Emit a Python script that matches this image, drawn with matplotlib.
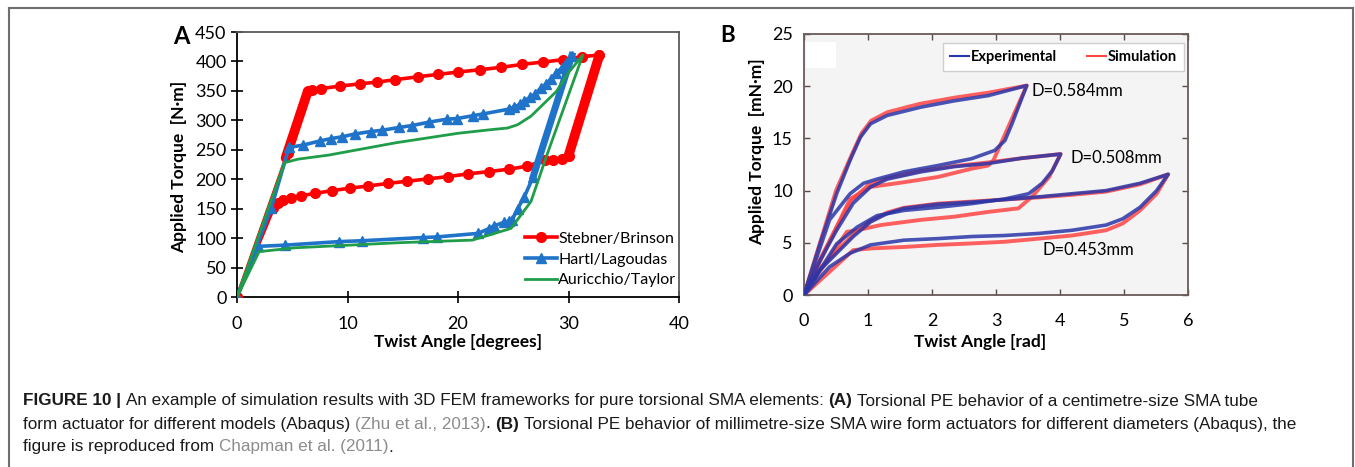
import matplotlib
matplotlib.use("Agg")
import matplotlib.pyplot as plt
from matplotlib.lines import Line2D
from matplotlib.patches import Rectangle

plt.rcParams['font.family'] = ['Lato', 'DejaVu Sans']

W, H = 1355, 467

# ---------------- panel A : torque vs twist angle, three models ----------------
sb_x = [0, 4.6, 6.4, 6.8, 7.6, 9.3, 11.1, 12.7, 14.3, 16.4, 18.2, 20.0, 22.0, 23.9, 25.8,
        27.7, 29.5, 31.2, 32.8, 30.0, 29.4, 28.6, 27.9, 26.2, 24.6, 22.8, 20.9, 19.1, 17.3,
        15.4, 13.7, 11.9, 10.2, 8.6, 7.1, 5.8, 4.9, 4.2, 3.7, 3.3, 0]
sb_y = [0, 245, 349, 352, 354, 358, 362, 365, 369, 374, 378, 382, 386, 390, 395,
        399, 403, 408, 411, 240, 234, 233, 232, 222, 217, 213, 209, 204.5, 200.6,
        196.6, 193, 188.6, 184.7, 180.7, 176, 172, 168.7, 164.8, 159, 150.6, 0]
# parts of the red curve where the markers pile up into a solid band
sb_dense_load_x = [4.4, 6.4]
sb_dense_load_y = [236, 349]
sb_dense_unload_x = [32.8, 30.0]
sb_dense_unload_y = [411, 240]

hl_x = [0, 3.1, 4.7, 6.0, 7.5, 8.5, 9.5, 10.7, 12.1, 13.1, 14.7, 15.8, 17.4, 19.0, 19.9,
        21.4, 22.3, 24.6, 25.1, 25.6, 26.0, 26.5, 27.0, 27.5, 28.0, 28.4, 28.9, 29.4, 29.8,
        30.3, 26.8, 26.0, 25.4, 24.9, 24.6, 24.2, 23.3, 22.8, 21.8, 18.1, 16.8, 11.3, 9.2,
        4.3, 1.9, 0]
hl_y = [0, 151, 254, 258, 265, 269, 272, 277, 281, 283, 288, 291, 297, 302, 303,
        308, 311, 319, 323, 327, 333, 339, 345, 355, 362, 370, 381, 389, 398,
        410, 204, 170, 150, 131, 129, 127, 121, 116, 108, 102, 101, 95.5, 94,
        88, 86, 0]
hl_dense_unload_x = [30.3, 26.8]
hl_dense_unload_y = [410, 204]

at_x = [0, 4.3, 5.5, 8.3, 14.4, 20.0, 22.9, 24.5, 25.4, 26.6, 28.9, 30.0, 31.3,
        28.1, 26.6, 24.8, 21.3, 14.4, 5.2, 2.0, 0]
at_y = [0, 228, 234, 241, 262, 278, 284, 287, 292.6, 307, 349, 381, 411,
        244, 162, 116.5, 96.6, 92, 83.5, 77, 0]

# ---------------- panel B : experiment vs simulation, three diameters ----------------
d584_exp_x = [0, 0.25, 0.51, 0.72, 0.88, 1.04, 1.3, 1.83, 2.35, 2.88, 3.48,
              3.35, 3.25, 3.14, 2.98, 2.62, 2.09, 1.56, 1.14, 0.93, 0.72, 0.4, 0]
d584_exp_y = [0, 4.9, 9.7, 12.9, 15.1, 16.4, 17.2, 18.0, 18.6, 19.1, 20.06,
              18.0, 16.4, 14.8, 13.85, 13.06, 12.4, 11.8, 11.1, 10.7, 9.7, 7.2, 0]
d584_sim_x = [0, 0.25, 0.5, 0.75, 0.9, 1.05, 1.3, 1.8, 2.35, 2.9, 3.48,
              2.96, 2.88, 2.62, 2.09, 1.56, 1.04, 0.72, 0]
d584_sim_y = [0, 5.0, 10.0, 13.5, 15.5, 16.7, 17.5, 18.3, 18.9, 19.4, 20.06,
              12.9, 12.4, 12.1, 11.3, 10.8, 10.35, 9.2, 0]

d508_exp_x = [0, 0.25, 0.51, 0.77, 1.04, 1.3, 1.83, 2.35, 2.88, 3.4, 4.01,
              3.88, 3.72, 3.51, 3.14, 2.62, 2.09, 1.56, 1.14, 0.83, 0.51, 0]
d508_exp_y = [0, 3.3, 6.2, 8.8, 10.35, 11.1, 11.8, 12.3, 12.6, 13.1, 13.5,
              11.9, 10.7, 9.7, 9.2, 8.75, 8.4, 8.1, 7.6, 6.5, 4.9, 0]
d508_sim_x = [0, 0.25, 0.5, 0.75, 1.0, 1.3, 1.83, 2.35, 2.88, 3.4, 4.01,
              3.83, 3.56, 3.35, 2.88, 2.35, 1.83, 1.2, 0.83, 0.67, 0]
d508_sim_y = [0, 3.4, 6.4, 9.1, 10.5, 11.2, 11.9, 12.35, 12.7, 13.1, 13.5,
              11.3, 9.4, 8.3, 7.96, 7.5, 7.2, 6.7, 6.2, 6.05, 0]

d453_exp_x = [0, 0.25, 0.51, 0.77, 1.04, 1.3, 1.56, 2.09, 2.62, 3.14, 3.67, 4.19, 4.72, 5.25, 5.69,
              5.51, 5.25, 4.98, 4.72, 4.19, 3.67, 3.14, 2.62, 2.09, 1.56, 1.04, 0.72, 0.4, 0]
d453_exp_y = [0, 2.4, 4.0, 5.6, 7.0, 7.8, 8.3, 8.7, 8.9, 9.14, 9.4, 9.7, 10.0, 10.7, 11.56,
              10.0, 8.4, 7.3, 6.7, 6.2, 5.9, 5.7, 5.6, 5.4, 5.25, 4.8, 4.0, 2.7, 0]
d453_sim_x = [0, 0.25, 0.51, 0.77, 1.04, 1.3, 1.56, 2.09, 2.62, 3.14, 3.67, 4.19, 4.72, 5.25, 5.69,
              5.51, 5.25, 4.98, 4.72, 4.19, 3.67, 3.14, 2.62, 2.09, 1.56, 1.04, 0.77, 0]
d453_sim_y = [0, 2.5, 4.2, 5.8, 7.1, 7.9, 8.35, 8.75, 8.95, 9.15, 9.35, 9.6, 9.9, 10.6, 11.56,
              9.7, 8.1, 6.85, 6.2, 5.7, 5.4, 5.1, 4.94, 4.8, 4.6, 4.46, 4.3, 0]

diam_labels = ['D=0.584mm', 'D=0.508mm', 'D=0.453mm']
diam_label_x = [3.55, 4.17, 3.72]
diam_label_y = [19.5, 13.15, 4.3]

RED = '#ff0000'
BLUE = '#1f74c9'
GREEN = '#1f9d48'
EXP_BLUE = '#2a36a8'
SIM_RED = '#ff4545'

fig = plt.figure(figsize=(W / 100, H / 100), dpi=100)

##################################################
# panel A
##################################################
axA = fig.add_axes([237 / W, 1 - 297 / H, 442 / W, 265 / H])

axA.plot(sb_dense_load_x, sb_dense_load_y, color=RED, lw=7, solid_capstyle='round', zorder=3)
axA.plot(sb_dense_unload_x, sb_dense_unload_y, color=RED, lw=7, solid_capstyle='round', zorder=3)
axA.plot(sb_x, sb_y, color=RED, lw=2.6, marker='o', ms=7, zorder=3, label='Stebner/Brinson')

axA.plot(hl_dense_unload_x, hl_dense_unload_y, color=BLUE, lw=5, zorder=4)
axA.plot(hl_x, hl_y, color=BLUE, lw=2.6, marker='^', ms=7, zorder=4, label='Hartl/Lagoudas')

axA.plot(at_x, at_y, color=GREEN, lw=2.0, zorder=5, label='Auricchio/Taylor')

axA.set_xlim(0, 40)
axA.set_ylim(0, 450)
axA.set_xticks(range(0, 41, 10))
axA.set_yticks(range(0, 451, 50))
axA.tick_params(direction='inout', length=9, width=1.2, labelsize=13, colors='black')
axA.tick_params(axis='x', pad=9)
axA.tick_params(axis='y', pad=3)
for side in ['left', 'bottom']:
    axA.spines[side].set_color('black')
    axA.spines[side].set_linewidth(1.3)
for side in ['top', 'right']:
    axA.spines[side].set_color('#5a5a5a')
    axA.spines[side].set_linewidth(1.3)

axA.set_xlabel('Twist Angle [degrees]', fontsize=12.5, fontweight='bold', va='center')
axA.xaxis.set_label_coords(0.501, -0.17)
axA.set_ylabel('Applied Torque  [N·m]', fontsize=12.5, fontweight='bold', va='center')
axA.yaxis.set_label_coords(-0.132, 0.489)

axA.legend(loc='lower right', bbox_to_anchor=(1.008, 0.012), frameon=False, fontsize=11.5,
           handlelength=2.0, handletextpad=0.05, labelspacing=0.42, borderaxespad=0)

fig.text(181 / W, 1 - 37 / H, 'A', fontsize=17, fontweight='bold', ha='center', va='center')

##################################################
# panel B
##################################################
axB = fig.add_axes([804 / W, 1 - 295 / H, 384 / W, 261 / H])
axB.set_facecolor('#f4f4f4')
axB.add_patch(Rectangle((0.005, 0.87), 0.078, 0.1, transform=axB.transAxes,
                        facecolor='white', edgecolor='none', zorder=0.5))

loops = [(d584_exp_x, d584_exp_y, d584_sim_x, d584_sim_y),
         (d508_exp_x, d508_exp_y, d508_sim_x, d508_sim_y),
         (d453_exp_x, d453_exp_y, d453_sim_x, d453_sim_y)]
for i, (ex, ey, sx, sy) in enumerate(loops):
    axB.plot(sx, sy, color=SIM_RED, lw=2.8, alpha=0.85, zorder=2, solid_joinstyle='round',
             label='Simulation' if i == 0 else None)
    axB.plot(ex, ey, color=EXP_BLUE, lw=2.6, alpha=0.85, zorder=3, solid_joinstyle='round',
             label='Experimental' if i == 0 else None)

for txt, tx, ty in zip(diam_labels, diam_label_x, diam_label_y):
    axB.text(tx, ty, txt, fontsize=12, ha='left', va='center', zorder=6)

axB.set_xlim(0, 6)
axB.set_ylim(0, 25)
axB.set_xticks(range(0, 7))
axB.set_yticks(range(0, 26, 5))
axB.tick_params(direction='in', length=4, width=1, labelsize=13, top=True, right=True,
                color='#5b4b4b')
axB.tick_params(axis='x', pad=13)
axB.tick_params(axis='y', pad=8)
for side in axB.spines:
    axB.spines[side].set_color('#6b5a5a')
    axB.spines[side].set_linewidth(1.3)

axB.set_xlabel('Twist Angle [rad]', fontsize=12.5, fontweight='bold', va='center')
axB.xaxis.set_label_coords(0.458, -0.18)
axB.set_ylabel('Applied Torque  [mN·m]', fontsize=12.5, fontweight='bold', va='center')
axB.yaxis.set_label_coords(-0.122, 0.548)

h, l = axB.get_legend_handles_labels()
legB = axB.legend([h[1], h[0]], [l[1], l[0]], loc='upper right', bbox_to_anchor=(0.99, 0.966),
                  ncol=2, prop={'weight': 'bold', 'size': 10.5},
                  frameon=True, fancybox=False, edgecolor='#cfcfcf', facecolor='white',
                  framealpha=1, handlelength=1.3, handletextpad=0.15, columnspacing=2.0,
                  borderaxespad=0, borderpad=0.5)
legB.get_frame().set_linewidth(1.0)
for line in legB.get_lines():
    line.set_linewidth(1.5)
    line.set_alpha(1)

fig.text(728 / W, 1 - 36 / H, 'B', fontsize=16, fontweight='bold', ha='center', va='center')

##################################################
# frame and caption
##################################################
frame_col = '#6e6e6e'
fig.add_artist(Line2D([9 / W, 9 / W], [0, 1 - 8 / H], color=frame_col, lw=1.5))
fig.add_artist(Line2D([1353 / W, 1353 / W], [0, 1 - 8 / H], color=frame_col, lw=1.5))
fig.add_artist(Line2D([9 / W, 1353 / W], [1 - 8 / H, 1 - 8 / H], color=frame_col, lw=1.5))

cap_styles = {
    'b': dict(fontweight='bold', color='#1a1a1a'),
    'n': dict(fontweight='normal', color='#1a1a1a'),
    'g': dict(fontweight='normal', color='#8c8c8c'),
}
caption = [
    [('FIGURE 10 |', 'b'), ('An example of simulation results with 3D FEM frameworks for pure torsional SMA elements:', 'n'),
     ('(A)', 'b'), ('Torsional PE behavior of a centimetre-size SMA tube', 'n')],
    [('form actuator for different models (Abaqus)', 'n'), ('(Zhu et al., 2013)', 'g'), ('.', 'n', 0),
     ('(B)', 'b'), ('Torsional PE behavior of millimetre-size SMA wire form actuators for different diameters (Abaqus), the', 'n')],
    [('figure is reproduced from', 'n'), ('Chapman et al. (2011)', 'g'), ('.', 'n', 0)],
]
cap_y = [401, 424, 447]
cap_size = 12.3
cap_font = ['Liberation Sans', 'DejaVu Sans']

renderer = fig.canvas.get_renderer()
probe1 = fig.text(0, 0, 'x x', fontsize=cap_size, family=cap_font)
probe2 = fig.text(0, 0, 'xx', fontsize=cap_size, family=cap_font)
space_px = probe1.get_window_extent(renderer).width - probe2.get_window_extent(renderer).width
probe1.remove()
probe2.remove()

for line, y in zip(caption, cap_y):
    x_px = 23
    for k, piece in enumerate(line):
        txt, st = piece[0], piece[1]
        if k > 0 and (len(piece) < 3 or piece[2] != 0):
            x_px += space_px
        t = fig.text(x_px / W, 1 - y / H, txt, fontsize=cap_size, family=cap_font,
                     ha='left', va='center', **cap_styles[st])
        x_px += t.get_window_extent(renderer).width

fig.savefig('out.png', dpi=100)
